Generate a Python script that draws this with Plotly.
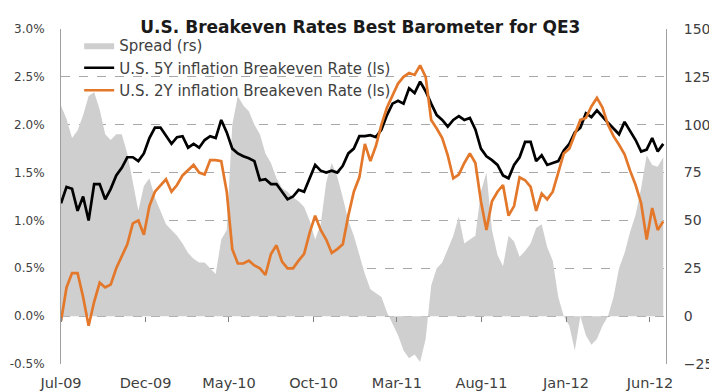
import pandas as pd
import plotly.graph_objects as go

# 10-day sampled observation dates (Jul-2009 .. Jun-2012)
dates = pd.date_range("2009-07-01", periods=110, freq="10D")

# U.S. 5Y inflation breakeven rate (%), left scale
be5y = [1.18, 1.35, 1.33, 1.10, 1.25, 1.00, 1.38, 1.38, 1.22, 1.33,
        1.47, 1.55, 1.66, 1.66, 1.62, 1.70, 1.86, 1.97, 1.97, 1.89,
        1.80, 1.87, 1.88, 1.76, 1.80, 1.76, 1.84, 1.88, 1.86, 2.05,
        1.92, 1.75, 1.70, 1.67, 1.65, 1.62, 1.42, 1.43, 1.38, 1.38,
        1.30, 1.22, 1.25, 1.32, 1.30, 1.45, 1.58, 1.52, 1.50, 1.52,
        1.50, 1.57, 1.70, 1.75, 1.88, 1.88, 1.89, 1.87, 1.95, 2.10,
        2.22, 2.25, 2.22, 2.38, 2.33, 2.45, 2.35, 2.22, 2.10, 2.05,
        1.98, 2.05, 2.09, 2.05, 2.07, 1.95, 1.75, 1.67, 1.63, 1.58,
        1.47, 1.44, 1.58, 1.66, 1.82, 1.82, 1.62, 1.68, 1.58, 1.60,
        1.62, 1.73, 1.80, 1.92, 1.97, 2.12, 2.08, 2.15, 2.08, 2.02,
        1.96, 1.90, 2.03, 1.93, 1.84, 1.72, 1.74, 1.86, 1.72, 1.80]

# U.S. 2Y inflation breakeven rate (%), left scale
be2y = [-0.05, 0.30, 0.45, 0.45, 0.20, -0.10, 0.15, 0.35, 0.30, 0.33,
        0.50, 0.63, 0.75, 0.97, 1.00, 0.85, 1.15, 1.30, 1.36, 1.43,
        1.30, 1.37, 1.47, 1.52, 1.58, 1.50, 1.48, 1.63, 1.63, 1.62,
        1.30, 0.70, 0.55, 0.55, 0.58, 0.53, 0.50, 0.43, 0.65, 0.74,
        0.57, 0.50, 0.50, 0.58, 0.65, 0.87, 1.05, 0.90, 0.80, 0.66,
        0.70, 0.75, 1.05, 1.30, 1.45, 1.80, 1.62, 1.78, 2.00, 2.18,
        2.30, 2.43, 2.50, 2.54, 2.52, 2.62, 2.50, 2.05, 1.96, 1.86,
        1.68, 1.44, 1.48, 1.60, 1.70, 1.60, 1.20, 0.90, 1.20, 1.30,
        1.37, 1.05, 1.15, 1.45, 1.42, 1.35, 1.10, 1.28, 1.22, 1.30,
        1.50, 1.70, 1.75, 1.89, 2.05, 2.07, 2.19, 2.28, 2.18, 2.00,
        1.88, 1.79, 1.69, 1.52, 1.37, 1.18, 0.80, 1.13, 0.90, 0.99]

# Spread (bp), right scale
spread = [110, 103, 93, 97, 105, 115, 117, 108, 95, 92,
          95, 95, 85, 70, 55, 68, 72, 62, 55, 48,
          45, 42, 38, 33, 30, 28, 28, 25, 22, 40,
          45, 100, 115, 110, 107, 100, 95, 85, 80, 72,
          67, 65, 62, 60, 57, 50, 40, 48, 70, 80,
          73, 62, 50, 42, 32, 22, 14, 12, 10, 2,
          -4, -10, -18, -22, -20, -24, -12, 16, 25, 28,
          35, 42, 52, 38, 40, 42, 65, 75, 45, 32,
          26, 42, 39, 31, 34, 38, 46, 48, 36, 29,
          10, 0, -5, -18, 0, -10, -15, -12, -5, 0,
          10, 25, 33, 44, 53, 67, 84, 79, 78, 83]

tick_dates = ["2009-07-01", "2009-12-01", "2010-05-01", "2010-10-01",
              "2011-03-01", "2011-08-01", "2012-01-01", "2012-06-01"]
tick_text = ["Jul-09", "Dec-09", "May-10", "Oct-10",
             "Mar-11", "Aug-11", "Jan-12", "Jun-12"]
left_ticks = [-0.5, 0.0, 0.5, 1.0, 1.5, 2.0, 2.5, 3.0]
left_text = ["-0.5%", "0.0%", "0.5%", "1.0%", "1.5%", "2.0%", "2.5%", "3.0%"]
right_ticks = [-25, 0, 25, 50, 75, 100, 125, 150]

FONT = "DejaVu Sans"
TXT = "#404040"

fig = go.Figure()
# Spread on the primary (right-side) axis so that it is drawn beneath the lines
fig.add_trace(go.Scatter(x=dates, y=spread, name="Spread (rs)", yaxis="y",
                         mode="lines", line=dict(width=0, color="#cfcfcf"),
                         fill="tozeroy", fillcolor="#cfcfcf"))
fig.add_trace(go.Scatter(x=dates, y=be5y, name="U.S. 5Y inflation Breakeven Rate (ls)",
                         yaxis="y2", mode="lines", line=dict(color="#000000", width=2.7)))
fig.add_trace(go.Scatter(x=dates, y=be2y, name="U.S. 2Y inflation Breakeven Rate (ls)",
                         yaxis="y2", mode="lines", line=dict(color="#E3782B", width=2.7)))
# invisible helper trace for the tick-mark axis crossing at zero
fig.add_trace(go.Scatter(x=tick_dates, y=[0] * len(tick_dates), xaxis="x2", yaxis="y",
                         mode="markers", marker=dict(opacity=0), showlegend=False,
                         hoverinfo="skip"))

xr = ["2009-07-01", "2012-06-30"]
fig.update_layout(
    width=709, height=384,
    margin=dict(l=53, r=51, t=21, b=28, autoexpand=False),
    paper_bgcolor="white", plot_bgcolor="white",
    title=dict(text="<b>U.S. Breakeven Rates Best Barometer for QE3</b>",
               x=0.497, xanchor="center", y=0.95, yanchor="middle",
               font=dict(family=FONT, size=17, color="#1a1a1a")),
    font=dict(family=FONT, size=13, color=TXT),
    showlegend=True,
    legend=dict(x=0.03, y=1.0, xanchor="left", yanchor="top",
                bgcolor="rgba(0,0,0,0)", font=dict(size=15, color=TXT),
                tracegroupgap=0, traceorder="normal"),
    xaxis=dict(range=xr, tickvals=tick_dates, ticktext=tick_text,
               showgrid=False, zeroline=False, showline=False, ticks="",
               tickfont=dict(size=14.5, color=TXT), ticklabelstandoff=8,
               automargin=False),
    xaxis2=dict(range=xr, overlaying="x", anchor="free", position=0.5 / 3.5,
                side="bottom", tickvals=tick_dates, showticklabels=False,
                ticks="outside", ticklen=5, tickwidth=1, tickcolor="#808080",
                showgrid=False, zeroline=False, showline=False, automargin=False),
    yaxis=dict(range=[-25, 150], tickvals=right_ticks, side="right",
               showgrid=True, gridcolor="#a8a8a8", griddash="dash", gridwidth=1,
               zeroline=False, showline=True, linecolor="#a0a0a0", linewidth=1,
               tickfont=dict(size=14, color=TXT), ticklabelstandoff=14,
               automargin=False),
    yaxis2=dict(range=[-0.5, 3.0], tickvals=left_ticks, ticktext=left_text,
                overlaying="y", side="left",
                showgrid=False, zeroline=False, showline=True, linecolor="#a0a0a0",
                linewidth=1, tickfont=dict(size=12, color=TXT), ticklabelstandoff=13,
                automargin=False),
)
fig.write_html("out.html")
